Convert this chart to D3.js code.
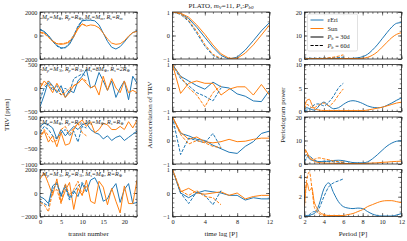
<!DOCTYPE html>
<html lang="en">
<head>
<meta charset="UTF-8">
<title>TRV PLATO</title>
<script src="https://cdn.jsdelivr.net/npm/d3@7/dist/d3.min.js"></script>
<style>
body{margin:0;background:#fff;}
text{font-family:"Liberation Serif","DejaVu Serif",serif;fill:#222;}
.tick text{font-size:6.3px;font-family:"Liberation Serif","DejaVu Serif",serif;}
.tick line{stroke:#222;stroke-width:0.6;}
</style>
</head>
<body>
<script>
// ---- x values
var transits=[0,1,2,3,4,5,6,7,8,9,10,11,12,13,14,15,16,17,18,19,20,21,22,23];
var transitsShort=[0,1,2,3,4,5,6,7,8,9,10,11];
var lags=[0,1,2,3,4,5,6,7,8,9,10,11,12];
var lagsShort=[0,1,2,3,4,5,6];
var periods=[2,2.25,2.5,2.75,3,3.25,3.5,4,4.5,5,5.5,6,6.5,7,7.5,8,8.5,9,9.5,10,10.5,11,11.5,12];
var periodsShort=[2,2.25,2.5,2.75,3,3.25,3.5,4,4.5,5,5.5,6];

// ---- TRV [ppm], one array per row: solid = 30d, dashed = 60d
var trv1Eri=[500,350,0,-450,-850,-1050,-1050,-750,-100,700,1250,1300,1300,1250,900,200,-500,-1000,-1150,-950,-550,-100,250,400];
var trv1Sun=[300,200,-100,-450,-700,-750,-700,-550,-100,550,1000,800,900,850,650,200,-300,-650,-750,-700,-450,-50,250,350];
var trv1EriD=[550,300,-50,-500,-900,-1100,-1000,-650,0,800,1300,1350];
var trv1SunD=[250,150,-150,-500,-700,-700,-650,-450,0,650,950,850];
var trv2Eri=[-400,-150,150,50,-100,50,-200,-50,-100,150,250,400,0,50,330,150,-50,150,-200,0,150,-250,250,100];
var trv2Sun=[0,150,50,-100,100,-50,-200,-100,50,100,200,100,0,50,-150,250,-50,200,0,-100,150,-100,-50,-100];
var trv2EriD=[-250,0,100,-50,50,-150,0,-100,200,250,300,250];
var trv2SunD=[100,50,150,0,-50,-150,-100,0,50,100,200,150];
var trv3Eri=[200,300,250,150,-200,100,-100,50,200,100,250,300,100,0,-50,-200,-100,-250,-150,-100,-250,-150,-50,50];
var trv3Sun=[-100,50,-300,-100,-450,0,-400,-350,100,300,400,200,350,0,100,300,250,100,100,200,100,350,150,400];
var trv3EriD=[0,200,100,-100,-200,0,100,-100,50,-300,200,150];
var trv3SunD=[-200,100,-100,-300,-250,100,200,-50,150,300,0,-100];
var trv4Eri=[-300,-500,-900,600,900,-200,700,-400,200,-300,800,100,1100,1300,600,-700,-500,300,800,-800,300,800,-900,-800];
var trv4Sun=[1200,1700,800,-200,1200,-800,200,900,-1400,400,-200,1100,-700,-900,1000,500,-1000,400,-700,-1700,600,-900,-900,1100];
var trv4EriD=[-700,-900,-1100,300,800,-300,500,-600,0,600,900,400];
var trv4SunD=[-800,-1000,-1600,100,300,-900,800,-200,300,1000,-200,600];

// ---- autocorrelation
var ac1Eri=[1,0.93,0.72,0.35,-0.08,-0.5,-0.85,-1.0,-0.92,-0.62,-0.22,0.2,0.55];
var ac1Sun=[1,0.95,0.78,0.45,0.05,-0.4,-0.78,-0.97,-0.97,-0.75,-0.4,0.02,0.45];
var ac1EriD=[1,0.9,0.6,0.1,-0.45,-0.85,-1.0];
var ac1SunD=[1,0.92,0.65,0.18,-0.38,-0.8,-0.98];
var ac2Eri=[1,0.5,0.3,0.1,-0.05,0.25,0.05,0.0,-0.25,-0.35,-0.55,-0.58,-0.1];
var ac2Sun=[1,-0.23,0.2,0.3,0.2,0.2,-0.3,-0.05,0.05,0.05,-0.3,0.15,-0.3];
var ac2EriD=[1,0.4,0.1,-0.2,-0.35,-0.55,0.0];
var ac2SunD=[1,0.5,0.0,-0.3,-0.8,-0.2,0.1];
var ac3Eri=[1,0.3,0.2,0.05,0.0,-0.2,-0.35,-0.5,-0.55,-0.25,-0.05,0.3,0.4];
var ac3Sun=[1,0.35,0.05,0.15,-0.05,-0.1,-0.05,0.05,-0.05,-0.03,0.05,0.1,0.1];
var ac3EriD=[1,-0.6,0.1,0.0,-0.1,0.3,-0.3];
var ac3SunD=[1,0.25,-0.15,0.0,-0.1,-0.25,-0.3];
var ac4Eri=[1,0.0,-0.2,0.0,0.1,0.05,0.0,-0.1,-0.1,-0.3,-0.2,-0.25,-0.25];
var ac4Sun=[1,0.05,0.2,0.0,-0.05,0.0,0.05,-0.1,0.0,-0.25,-0.15,-0.1,-0.1];
var ac4EriD=[1,0.0,-0.45,0.05,-0.1,-0.5,0.1];
var ac4SunD=[1,0.1,-0.1,0.1,-0.15,-0.2,-0.5];

// ---- periodogram power
var pg1Eri=[0.2,0.2,0.2,0.2,0.2,0.2,0.2,0.2,0.2,0.2,0.2,0.2,0.2,0.3,0.5,1.0,2.0,3.8,6.0,8.6,11.2,13.6,15.2,15.5];
var pg1Sun=[0.2,0.2,0.2,0.2,0.2,0.2,0.2,0.2,0.2,0.2,0.2,0.2,0.2,0.2,0.2,0.3,0.7,1.6,3.0,5.0,7.1,9.1,10.5,11.2];
var pg1EriD=[0.3,0.3,0.3,0.3,0.3,0.3,0.3,0.4,0.4,0.5,0.6,0.8];
var pg1SunD=[0.1,0.1,0.1,0.1,0.1,0.2,0.2,0.3,0.5,0.8,1.2,1.8];
var pg2Eri=[0.5,0.8,0.6,0.4,0.3,0.6,1.2,2.0,1.2,0.6,0.8,1.5,2.1,2.3,2.1,1.7,1.2,0.9,0.8,0.9,1.3,1.8,2.4,2.9];
var pg2Sun=[1.0,2.4,2.6,1.5,0.6,0.4,0.3,0.2,0.2,0.2,0.2,0.2,0.2,0.2,0.2,0.2,0.3,0.5,0.7,0.9,1.2,1.5,1.8,2.0];
var pg2EriD=[0.2,0.3,0.5,1.0,1.4,1.6,1.6,1.2,2.0,3.3,5.0,6.0];
var pg2SunD=[0.5,1.5,1.2,0.8,0.8,1.1,1.4,1.8,1.2,2.0,3.5,4.8];
var pg3Eri=[3.0,4.0,2.2,1.6,1.4,1.2,1.0,1.0,1.3,1.5,1.6,1.4,1.0,0.6,0.5,0.5,0.9,2.2,3.9,5.8,7.6,8.9,9.7,9.9];
var pg3Sun=[6.5,5.0,3.0,2.0,1.2,0.8,0.6,0.4,0.3,0.3,0.2,0.2,0.2,0.2,0.2,0.2,0.3,0.4,0.5,0.7,0.8,1.0,1.1,1.2];
var pg3EriD=[1.0,2.8,3.5,2.6,1.8,1.2,1.0,1.2,1.1,1.0,0.8,0.6];
var pg3SunD=[6.0,4.0,2.5,2.0,2.0,2.4,2.6,2.2,1.8,1.3,1.0,0.8];
var pg4Eri=[0.0,0.05,0.1,0.2,0.3,0.6,1.2,2.8,3.4,2.4,1.5,1.0,0.85,0.8,0.85,0.8,0.5,0.25,0.1,0.05,0.05,0.05,0.15,0.3];
var pg4Sun=[1.0,3.4,2.6,2.9,1.5,0.9,0.5,0.2,0.1,0.1,0.1,0.1,0.2,0.3,0.5,0.7,1.0,1.2,1.4,1.55,1.6,1.6,1.5,1.4];
var pg4EriD=[0.0,0.1,0.2,0.4,0.5,0.4,0.8,2.0,3.0,3.4,3.6,3.8];
var pg4SunD=[1.5,3.8,4.5,3.0,1.0,0.5,0.3,0.1,0.05,0.05,0.05,0.05];

// ---- ticks
var trvTicks=[[-2000,0,2000],[-500,0,500],[-1000,-500,0,500],[-2000,0,2000]];
var trvDomains=[[-2000,2000],[-500,500],[-1000,500],[-2000,2000]];
var acTicks=[-1,0,1];
var pgTicks=[[0,10,20],[0,5,10],[0,10,20],[0,2,4]];
var pgDomains=[[0,20],[0,10],[0,20],[0,4.75]];
var transitTicks=[0,5,10,15,20];
var lagTicks=[0,4,8,12];
var periodTicks=[2,4,6,8,10,12];
var notes=["M_p=M_⊕, R_p=R_⊕, M_s=M_m, R_s=R_m",
           "M_p=M_♃, R_p=R_♃, M_s=8M_⊕, R_s=2R_⊕",
           "M_p=M_⊕, R_p=R_♃, M_s=M_⊕, R_s=R_⊕",
           "M_p=M_♃, R_p=R_♃, M_s=M_⊕, R=R_⊕"];

var blue="#1f77b4", orange="#ff7f0e";
var colX=[40,172.5,304.5], colW=97;
var rowY=[12,64.5,117,169.5], rowH=47;

var svg=d3.select("body").append("svg").attr("width",407).attr("height",241);

function fmt(d){ return d<0 ? "\u2212"+Math.abs(d) : String(d); }

// one axes box with inward ticks on all sides
function panel(c,r,xDom,yDom,xMaj,xStep,yMaj,yStep,showX){
    var g=svg.append("g").attr("transform","translate("+colX[c]+","+rowY[r]+")");
    var x=d3.scaleLinear().domain(xDom).range([0,colW]);
    var y=d3.scaleLinear().domain(yDom).range([rowH,0]);
    var xMin=d3.range(xDom[0],xDom[1]+1e-9,xStep);
    var yMin=d3.range(yDom[0],yDom[1]+1e-9,yStep);
    g.append("g").call(d3.axisLeft(y).tickValues(yMin).tickSize(-1.8).tickFormat(""));
    g.append("g").attr("transform","translate("+colW+",0)").call(d3.axisRight(y).tickValues(yMin).tickSize(-1.8).tickFormat(""));
    g.append("g").call(d3.axisTop(x).tickValues(xMin).tickSize(-1.8).tickFormat(""));
    g.append("g").attr("transform","translate(0,"+rowH+")").call(d3.axisBottom(x).tickValues(xMin).tickSize(-1.8).tickFormat(""));
    g.append("g").call(d3.axisLeft(y).tickValues(yMaj).tickSize(-3.5).tickPadding(2.5).tickFormat(fmt));
    g.append("g").attr("transform","translate("+colW+",0)").call(d3.axisRight(y).tickValues(yMaj).tickSize(-3.5).tickFormat(""));
    g.append("g").call(d3.axisTop(x).tickValues(xMaj).tickSize(-3.5).tickFormat(""));
    g.append("g").attr("transform","translate(0,"+rowH+")")
        .call(d3.axisBottom(x).tickValues(xMaj).tickSize(-3.5).tickPadding(3).tickFormat(showX?fmt:""));
    g.selectAll(".domain").remove();
    g.append("clipPath").attr("id","clip"+c+r).append("rect").attr("width",colW).attr("height",rowH);
    var lines=g.append("g").attr("clip-path","url(#clip"+c+r+")");
    g.append("rect").attr("width",colW).attr("height",rowH)
        .attr("fill","none").attr("stroke","#222").attr("stroke-width",0.8);
    return {g:lines,x:x,y:y};
}

function addLine(p,xs,ys,color,dashed,curve){
    var line=d3.line().x(function(d,i){return p.x(xs[i]);}).y(function(d){return p.y(d);}).curve(curve||d3.curveLinear);
    p.g.append("path").datum(ys).attr("d",line)
        .attr("fill","none").attr("stroke",color).attr("stroke-width",1)
        .attr("stroke-dasharray",dashed?"3.2,1.4":null);
}

var trv=[[trv1Eri,trv1Sun,trv1EriD,trv1SunD],[trv2Eri,trv2Sun,trv2EriD,trv2SunD],
         [trv3Eri,trv3Sun,trv3EriD,trv3SunD],[trv4Eri,trv4Sun,trv4EriD,trv4SunD]];
var ac=[[ac1Eri,ac1Sun,ac1EriD,ac1SunD],[ac2Eri,ac2Sun,ac2EriD,ac2SunD],
        [ac3Eri,ac3Sun,ac3EriD,ac3SunD],[ac4Eri,ac4Sun,ac4EriD,ac4SunD]];
var pg=[[pg1Eri,pg1Sun,pg1EriD,pg1SunD],[pg2Eri,pg2Sun,pg2EriD,pg2SunD],
        [pg3Eri,pg3Sun,pg3EriD,pg3SunD],[pg4Eri,pg4Sun,pg4EriD,pg4SunD]];

for(var r=0;r<4;r++){
    var last=(r==3);
    var trvStep=(r==0||r==3)?500:100;
    var p1=panel(0,r,[0,23],trvDomains[r],transitTicks,1,trvTicks[r],trvStep,last);
    addLine(p1,transits,trv[r][0],blue,false);
    addLine(p1,transits,trv[r][1],orange,false);
    addLine(p1,transitsShort,trv[r][2],blue,true);
    addLine(p1,transitsShort,trv[r][3],orange,true);

    var p2=panel(1,r,[0,12],[-1,1],lagTicks,1,acTicks,0.2,last);
    addLine(p2,lags,ac[r][0],blue,false);
    addLine(p2,lags,ac[r][1],orange,false);
    addLine(p2,lagsShort,ac[r][2],blue,true);
    addLine(p2,lagsShort,ac[r][3],orange,true);

    var pgStep=[2,1,2,0.5][r];
    var p3=panel(2,r,[2,12],pgDomains[r],periodTicks,0.5,pgTicks[r],pgStep,last);
    addLine(p3,periods,pg[r][0],blue,false,d3.curveMonotoneX);
    addLine(p3,periods,pg[r][1],orange,false,d3.curveMonotoneX);
    addLine(p3,periodsShort,pg[r][2],blue,true,d3.curveMonotoneX);
    addLine(p3,periodsShort,pg[r][3],orange,true,d3.curveMonotoneX);

    // mass / radius note, "_x" gives a subscript
    var t=svg.append("text").attr("x",colX[0]+2).attr("y",rowY[r]+6.5)
        .attr("font-size",6).attr("font-style","italic");
    var down=false;
    notes[r].split(/(_.)/).forEach(function(s){
        if(!s) return;
        if(s[0]=="_"){
            t.append("tspan").attr("font-size",4.2).attr("dy",down?0:1).text(s[1]);
            down=true;
        } else {
            t.append("tspan").attr("dy",down?-1:0).text(s);
            down=false;
        }
    });
}

// axis labels
svg.append("text").attr("x",colX[0]+colW/2).attr("y",236).attr("text-anchor","middle").attr("font-size",7).text("transit number");
svg.append("text").attr("x",colX[1]+colW/2).attr("y",236).attr("text-anchor","middle").attr("font-size",7).text("time lag [P]");
svg.append("text").attr("x",colX[2]+colW/2).attr("y",236).attr("text-anchor","middle").attr("font-size",7).text("Period [P]");
svg.append("text").attr("transform","translate(9,115) rotate(-90)").attr("text-anchor","middle").attr("font-size",7).text("TRV [ppm]");
svg.append("text").attr("transform","translate(152,115) rotate(-90)").attr("text-anchor","middle").attr("font-size",7).text("Autocorrelation of TRV");
svg.append("text").attr("transform","translate(285,115) rotate(-90)").attr("text-anchor","middle").attr("font-size",7).text("Periodogram power");

// title
var title=svg.append("text").attr("x",colX[1]+colW/2).attr("y",7.5).attr("text-anchor","middle").attr("font-size",7);
title.append("tspan").text("PLATO, ");
title.append("tspan").attr("font-style","italic").text("m");
title.append("tspan").attr("font-size",5).attr("dy",1).attr("font-style","italic").text("V");
title.append("tspan").attr("dy",-1).text("=11, ");
title.append("tspan").attr("font-style","italic").text("P");
title.append("tspan").attr("font-size",5).attr("dy",1).attr("font-style","italic").text("s");
title.append("tspan").attr("dy",-1).text(":");
title.append("tspan").attr("font-style","italic").text("P");
title.append("tspan").attr("font-size",5).attr("dy",1).attr("font-style","italic").text("b0");

// legend in top right panel
var legendNames=["\u03B5Eri","Sun","P_b = 30d","P_b = 60d"];
var legendColors=[blue,orange,"#000","#000"];
var legendDash=[false,false,false,true];
var lg=svg.append("g").attr("transform","translate("+(colX[2]+3)+","+(rowY[0]+2)+")");
lg.append("rect").attr("width",50).attr("height",37).attr("rx",1.5)
    .attr("fill","#fff").attr("fill-opacity",0.85).attr("stroke","#ccc").attr("stroke-width",0.6);
legendNames.forEach(function(n,i){
    var yy=6+i*8.5;
    lg.append("line").attr("x1",3).attr("x2",16).attr("y1",yy).attr("y2",yy)
        .attr("stroke",legendColors[i]).attr("stroke-width",1).attr("stroke-dasharray",legendDash[i]?"3.2,1.4":null);
    var tx=lg.append("text").attr("x",20).attr("y",yy+2.2).attr("font-size",6.3);
    if(n.indexOf("_")<0){ tx.text(n); }
    else {
        tx.append("tspan").attr("font-style","italic").text("P");
        tx.append("tspan").attr("font-size",4.5).attr("dy",1).attr("font-style","italic").text("b");
        tx.append("tspan").attr("dy",-1).text(n.slice(3));
    }
});
</script>
</body>
</html>
